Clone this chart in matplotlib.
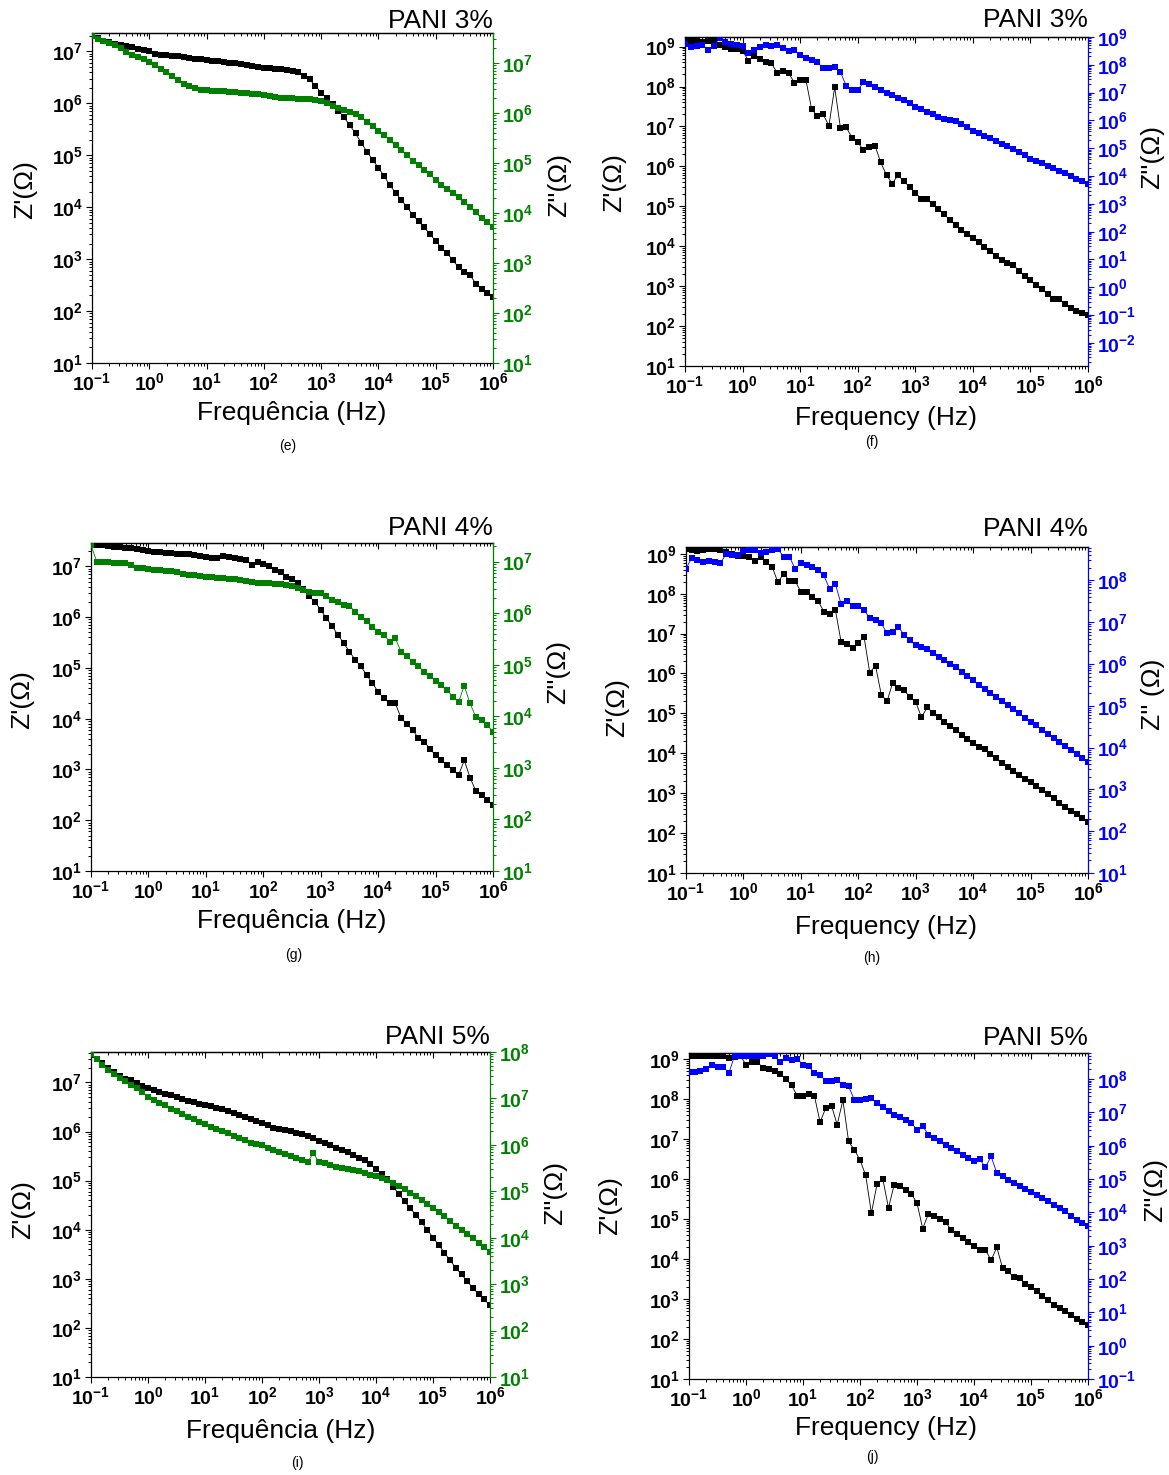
import numpy as np
import matplotlib
matplotlib.use("Agg")
import matplotlib.pyplot as plt
from matplotlib.ticker import LogLocator, FuncFormatter, NullFormatter

plt.rcParams["font.family"] = ["Liberation Sans", "DejaVu Sans"]
plt.rcParams["mathtext.fontset"] = "custom"
plt.rcParams["mathtext.rm"] = "Liberation Sans"
plt.rcParams["mathtext.bf"] = "Liberation Sans:bold"
plt.rcParams["mathtext.it"] = "Liberation Sans:italic"

# Frequency sweep: 0.1 Hz to 1 MHz, 10 points per decade
freq = np.logspace(-1, 6, 71)

# log10 of Z' and Z'' (ohm) for each sample, one value per frequency
log_zre_e = [7.30, 7.25, 7.21, 7.18, 7.15, 7.12, 7.10, 7.08, 7.05, 7.02,
             7.00, 6.96, 6.94, 6.93, 6.92, 6.91, 6.89, 6.88, 6.86, 6.85,
             6.83, 6.82, 6.81, 6.79, 6.78, 6.77, 6.76, 6.74, 6.72, 6.70,
             6.69, 6.68, 6.67, 6.66, 6.65, 6.63, 6.60, 6.53, 6.46, 6.34,
             6.20, 6.10, 5.99, 5.86, 5.73, 5.58, 5.42, 5.24, 5.07, 4.91,
             4.76, 4.60, 4.42, 4.28, 4.14, 4.00, 3.85, 3.73, 3.61, 3.48,
             3.35, 3.22, 3.11, 2.98, 2.84, 2.75, 2.69, 2.53, 2.43, 2.35,
             2.27]
log_zim_e = [7.53, 7.47, 7.44, 7.40, 7.35, 7.30, 7.22, 7.15, 7.11, 7.07,
             7.02, 6.96, 6.88, 6.81, 6.74, 6.65, 6.58, 6.53, 6.49, 6.46,
             6.45, 6.44, 6.43, 6.43, 6.42, 6.41, 6.40, 6.39, 6.38, 6.37,
             6.35, 6.33, 6.31, 6.30, 6.29, 6.29, 6.28, 6.28, 6.27, 6.26,
             6.24, 6.20, 6.14, 6.10, 6.05, 6.01, 5.97, 5.91, 5.82, 5.74,
             5.63, 5.55, 5.45, 5.35, 5.25, 5.15, 5.04, 4.95, 4.86, 4.77,
             4.66, 4.56, 4.47, 4.39, 4.31, 4.21, 4.11, 4.01, 3.89, 3.81,
             3.71]

log_zre_f = [9.19, 9.15, 9.13, 9.12, 9.13, 9.14, 9.05, 8.98, 8.95, 8.93,
             8.90, 8.65, 8.77, 8.68, 8.62, 8.58, 8.35, 8.40, 8.33, 8.10,
             8.17, 8.17, 7.43, 7.26, 7.30, 7.02, 7.98, 6.96, 6.98, 6.72,
             6.60, 6.41, 6.48, 6.52, 6.10, 5.78, 5.57, 5.78, 5.63, 5.49,
             5.34, 5.19, 5.18, 5.05, 4.93, 4.80, 4.66, 4.53, 4.40, 4.30,
             4.20, 4.10, 3.98, 3.87, 3.76, 3.66, 3.58, 3.54, 3.38, 3.26,
             3.15, 3.03, 2.92, 2.80, 2.68, 2.67, 2.55, 2.46, 2.39, 2.33,
             2.27]
log_zim_f = [8.75, 8.65, 8.68, 8.72, 8.55, 8.66, 8.97, 8.82, 8.76, 8.73,
             8.68, 8.42, 8.52, 8.64, 8.72, 8.68, 8.72, 8.60, 8.49, 8.52,
             8.34, 8.25, 8.16, 8.10, 7.87, 7.88, 7.92, 7.74, 7.24, 7.08,
             7.08, 7.38, 7.30, 7.20, 7.10, 7.00, 6.90, 6.82, 6.72, 6.62,
             6.48, 6.40, 6.32, 6.22, 6.14, 6.06, 6.02, 5.98, 5.88, 5.76,
             5.62, 5.54, 5.45, 5.36, 5.27, 5.17, 5.08, 4.98, 4.88, 4.74,
             4.62, 4.54, 4.46, 4.36, 4.28, 4.18, 4.10, 4.00, 3.90, 3.82,
             3.72]

log_zre_g = [7.44, 7.43, 7.42, 7.40, 7.39, 7.38, 7.37, 7.36, 7.34, 7.32,
             7.30, 7.29, 7.28, 7.27, 7.26, 7.25, 7.24, 7.24, 7.22, 7.20,
             7.18, 7.17, 7.17, 7.20, 7.19, 7.16, 7.14, 7.12, 7.02, 7.08,
             7.05, 7.00, 6.93, 6.88, 6.80, 6.75, 6.68, 6.55, 6.41, 6.30,
             6.14, 5.98, 5.82, 5.65, 5.49, 5.32, 5.16, 5.03, 4.86, 4.70,
             4.53, 4.40, 4.30, 4.30, 4.01, 3.89, 3.78, 3.62, 3.55, 3.41,
             3.28, 3.18, 3.09, 2.99, 2.89, 3.18, 2.84, 2.58, 2.49, 2.39,
             2.30]
log_zim_g = [7.32, 7.00, 6.99, 6.99, 6.98, 6.98, 6.97, 6.93, 6.88, 6.87,
             6.85, 6.84, 6.83, 6.82, 6.81, 6.79, 6.76, 6.74, 6.73, 6.72,
             6.71, 6.70, 6.69, 6.68, 6.67, 6.66, 6.65, 6.63, 6.60, 6.58,
             6.58, 6.58, 6.57, 6.56, 6.55, 6.52, 6.48, 6.45, 6.41, 6.40,
             6.39, 6.34, 6.26, 6.22, 6.16, 6.14, 6.03, 5.93, 5.84, 5.74,
             5.64, 5.58, 5.45, 5.51, 5.25, 5.16, 5.06, 4.98, 4.86, 4.78,
             4.69, 4.61, 4.51, 4.38, 4.28, 4.59, 4.25, 3.99, 3.93, 3.83,
             3.70]

log_zre_h = [9.13, 9.10, 9.08, 9.10, 9.12, 9.11, 9.10, 9.05, 9.00, 8.95,
             8.95, 8.93, 8.81, 8.92, 8.79, 8.67, 8.29, 8.50, 8.33, 8.32,
             8.05, 8.04, 7.92, 7.82, 7.55, 7.50, 7.60, 6.80, 6.73, 6.63,
             6.77, 6.92, 6.02, 6.20, 5.47, 5.30, 5.77, 5.63, 5.58, 5.40,
             5.29, 4.90, 5.15, 5.02, 4.92, 4.79, 4.68, 4.58, 4.46, 4.35,
             4.25, 4.15, 4.10, 3.98, 3.87, 3.76, 3.66, 3.56, 3.46, 3.36,
             3.27, 3.17, 3.07, 2.97, 2.87, 2.76, 2.66, 2.56, 2.47, 2.38,
             2.27]
log_zim_h = [8.28, 8.54, 8.49, 8.44, 8.46, 8.45, 8.41, 8.64, 8.60, 8.60,
             8.70, 8.72, 8.72, 8.65, 8.68, 8.73, 8.76, 8.56, 8.57, 8.28,
             8.41, 8.38, 8.33, 8.24, 8.12, 7.80, 7.92, 7.44, 7.51, 7.40,
             7.38, 7.30, 7.09, 7.05, 6.97, 6.74, 6.77, 6.89, 6.69, 6.57,
             6.45, 6.41, 6.37, 6.27, 6.17, 6.09, 6.01, 5.92, 5.81, 5.71,
             5.61, 5.51, 5.41, 5.31, 5.21, 5.12, 5.02, 4.92, 4.82, 4.72,
             4.62, 4.53, 4.43, 4.33, 4.23, 4.13, 4.04, 3.94, 3.85, 3.75,
             3.65]

log_zre_i = [7.55, 7.48, 7.39, 7.29, 7.21, 7.13, 7.08, 7.04, 6.98, 6.93,
             6.89, 6.85, 6.80, 6.77, 6.74, 6.70, 6.66, 6.63, 6.60, 6.57,
             6.54, 6.51, 6.48, 6.45, 6.42, 6.38, 6.34, 6.30, 6.25, 6.21,
             6.18, 6.13, 6.08, 6.05, 6.03, 6.01, 5.98, 5.95, 5.91, 5.86,
             5.81, 5.77, 5.72, 5.67, 5.63, 5.58, 5.52, 5.47, 5.41, 5.33,
             5.24, 5.14, 5.04, 4.87, 4.73, 4.58, 4.44, 4.30, 4.15, 4.00,
             3.84, 3.69, 3.53, 3.38, 3.22, 3.09, 2.95, 2.81, 2.69, 2.58,
             2.46]
log_zim_i = [7.95, 7.84, 7.72, 7.61, 7.53, 7.45, 7.37, 7.30, 7.22, 7.14,
             7.04, 6.97, 6.91, 6.85, 6.78, 6.72, 6.66, 6.61, 6.56, 6.50,
             6.44, 6.38, 6.34, 6.29, 6.25, 6.20, 6.15, 6.10, 6.05, 6.02,
             5.99, 5.94, 5.90, 5.85, 5.80, 5.76, 5.72, 5.67, 5.63, 5.82,
             5.63, 5.60, 5.57, 5.53, 5.51, 5.48, 5.46, 5.43, 5.40, 5.36,
             5.32, 5.29, 5.25, 5.18, 5.11, 5.05, 4.97, 4.90, 4.81, 4.73,
             4.64, 4.55, 4.47, 4.37, 4.26, 4.17, 4.09, 3.99, 3.89, 3.81,
             3.69]

log_zre_j = [9.08, 9.08, 9.08, 9.08, 9.08, 9.08, 9.07, 9.03, 9.06, 9.08,
             8.86, 8.92, 8.92, 8.78, 8.75, 8.69, 8.63, 8.50, 8.34, 8.08,
             8.08, 8.13, 8.08, 7.42, 7.78, 7.83, 7.36, 7.97, 6.94, 6.73,
             6.48, 6.09, 5.15, 5.88, 6.00, 5.28, 5.86, 5.82, 5.72, 5.63,
             5.40, 4.76, 5.13, 5.08, 5.00, 4.93, 4.72, 4.63, 4.53, 4.42,
             4.32, 4.22, 4.23, 3.97, 4.29, 3.78, 3.69, 3.54, 3.53, 3.38,
             3.29, 3.19, 3.08, 2.97, 2.86, 2.78, 2.69, 2.59, 2.50, 2.42,
             2.36]
log_zim_j = [8.20, 8.20, 8.24, 8.30, 8.43, 8.36, 8.37, 8.18, 8.70, 8.68,
             8.70, 8.68, 8.70, 8.70, 8.76, 8.68, 8.50, 8.63, 8.56, 8.60,
             8.43, 8.38, 8.18, 8.13, 7.93, 7.93, 7.96, 7.83, 7.78, 7.38,
             7.38, 7.41, 7.43, 7.28, 7.16, 7.03, 6.93, 6.86, 6.78, 6.68,
             6.48, 6.58, 6.33, 6.23, 6.13, 6.03, 5.93, 5.83, 5.73, 5.63,
             5.53, 5.60, 5.35, 5.68, 5.18, 5.10, 4.98, 4.88, 4.80, 4.70,
             4.60, 4.53, 4.43, 4.33, 4.23, 4.13, 4.03, 3.90, 3.78, 3.68,
             3.60]

titles = ["PANI 3%", "PANI 3%", "PANI 4%", "PANI 4%", "PANI 5%", "PANI 5%"]
captions = ["(e)", "(f)", "(g)", "(h)", "(i)", "(j)"]
xlabels = ["Frequência (Hz)", "Frequency (Hz)"] * 3
right_labels = ["Z''(Ω)", "Z''(Ω)", "Z''(Ω)", "Z'' (Ω)", "Z''(Ω)", "Z''(Ω)"]

GREEN = "#008000"
BLUE = "#0000ff"

W, H = 1169, 1475
fig = plt.figure(figsize=(W / 100, H / 100), dpi=100)

# panel geometry in pixels: axes box (left, right, top, bottom),
# log10 y-limits for left/right axes, and text anchor positions
panels = [
    dict(zre=log_zre_e, zim=log_zim_e, col=GREEN, box=(92, 493, 33, 363),
         yl=(1, 7.355), yr=(1, 7.60), title_y=21, xl=(292, 413), cap=(288, 446),
         ll=(25, 190), rl=(559, 185)),
    dict(zre=log_zre_f, zim=log_zim_f, col=BLUE, box=(685, 1088, 37, 366),
         yl=(1, 9.24), yr=(-2.83, 9.0), title_y=20, xl=(886, 418), cap=(872, 442),
         ll=(614, 183), rl=(1152, 157)),
    dict(zre=log_zre_g, zim=log_zim_g, col=GREEN, box=(91, 493, 543, 871),
         yl=(1, 7.46), yr=(1, 7.36), title_y=528, xl=(292, 921), cap=(294, 955),
         ll=(22, 700), rl=(558, 672)),
    dict(zre=log_zre_h, zim=log_zim_h, col=BLUE, box=(686, 1088, 547, 873),
         yl=(1, 9.17), yr=(1, 8.80), title_y=529, xl=(886, 927), cap=(872, 958),
         ll=(617, 708), rl=(1153, 694)),
    dict(zre=log_zre_i, zim=log_zim_i, col=GREEN, box=(91, 490, 1052, 1377),
         yl=(1, 7.62), yr=(1, 8.0), title_y=1037, xl=(281, 1431), cap=(297, 1463),
         ll=(23, 1210), rl=(555, 1193)),
    dict(zre=log_zre_j, zim=log_zim_j, col=BLUE, box=(689, 1088, 1053, 1379),
         yl=(1, 9.15), yr=(-1, 8.78), title_y=1038, xl=(886, 1428), cap=(872, 1457),
         ll=(610, 1206), rl=(1155, 1190)),
]


def dec_label(v, pos):
    e = int(round(np.log10(v)))
    return r"$\mathbf{10^{%d}}$" % e


def style_log_axis(axis):
    axis.set_major_locator(LogLocator(base=10.0, subs=(1.0,), numticks=40))
    axis.set_minor_locator(LogLocator(base=10.0, subs=np.arange(2, 10), numticks=40))
    axis.set_major_formatter(FuncFormatter(dec_label))
    axis.set_minor_formatter(NullFormatter())


TICK = 14
BIG = 19

for i, p in enumerate(panels):
    l, r, t, b = p["box"]
    ax = fig.add_axes([l / W, 1 - b / H, (r - l) / W, (b - t) / H])
    ax2 = ax.twinx()

    ax.plot(freq, 10 ** np.asarray(p["zre"]), "-s", color="black",
            ms=4, mew=0, lw=0.6)
    ax2.plot(freq, 10 ** np.asarray(p["zim"]), "-s", color=p["col"],
             ms=4, mew=0, lw=0.6)

    ax.set_xscale("log")
    ax.set_yscale("log")
    ax2.set_yscale("log")
    ax.set_xlim(0.1, 1e6)
    ax.set_ylim(10 ** p["yl"][0], 10 ** p["yl"][1])
    ax2.set_ylim(10 ** p["yr"][0], 10 ** p["yr"][1])

    style_log_axis(ax.xaxis)
    style_log_axis(ax.yaxis)
    style_log_axis(ax2.yaxis)

    for sp in ax.spines.values():
        sp.set_linewidth(0.9)
    ax.spines["right"].set_visible(False)
    for name, sp in ax2.spines.items():
        sp.set_linewidth(0.9)
        if name != "right":
            sp.set_visible(False)
    ax2.spines["right"].set_color(p["col"])

    ax.tick_params(axis="both", which="major", direction="out", length=4.5,
                   width=0.8, labelsize=TICK, pad=2, top=False, right=False)
    ax.tick_params(axis="both", which="minor", direction="out", length=2.2,
                   width=0.7, top=False, right=False)
    ax2.tick_params(axis="y", which="major", direction="out", length=4.5,
                    width=0.8, labelsize=TICK, pad=2, colors=p["col"])
    ax2.tick_params(axis="y", which="minor", direction="out", length=2.2,
                    width=0.7, colors=p["col"])

    # mirrored inward ticks along the top edge
    top = ax.secondary_xaxis("top")
    top.set_xscale("log")
    top.xaxis.set_major_locator(LogLocator(base=10.0, subs=(1.0,), numticks=40))
    top.xaxis.set_minor_locator(LogLocator(base=10.0, subs=np.arange(2, 10), numticks=40))
    top.tick_params(axis="x", which="major", direction="in", length=4.5,
                    width=0.8, labeltop=False)
    top.tick_params(axis="x", which="minor", direction="in", length=2.2,
                    width=0.7)
    top.spines["top"].set_linewidth(0.9)

    fig.text(r / W, 1 - p["title_y"] / H, titles[i], ha="right", va="center",
             fontsize=BIG)
    fig.text(p["xl"][0] / W, 1 - p["xl"][1] / H, xlabels[i], ha="center",
             va="center", fontsize=BIG)
    fig.text(p["cap"][0] / W, 1 - p["cap"][1] / H, captions[i], ha="center",
             va="center", fontsize=10)
    fig.text(p["ll"][0] / W, 1 - p["ll"][1] / H, "Z'(Ω)", ha="center",
             va="center", rotation=90, fontsize=BIG)
    fig.text(p["rl"][0] / W, 1 - p["rl"][1] / H, right_labels[i], ha="center",
             va="center", rotation=90, fontsize=BIG)

fig.savefig("out.png", dpi=100)
